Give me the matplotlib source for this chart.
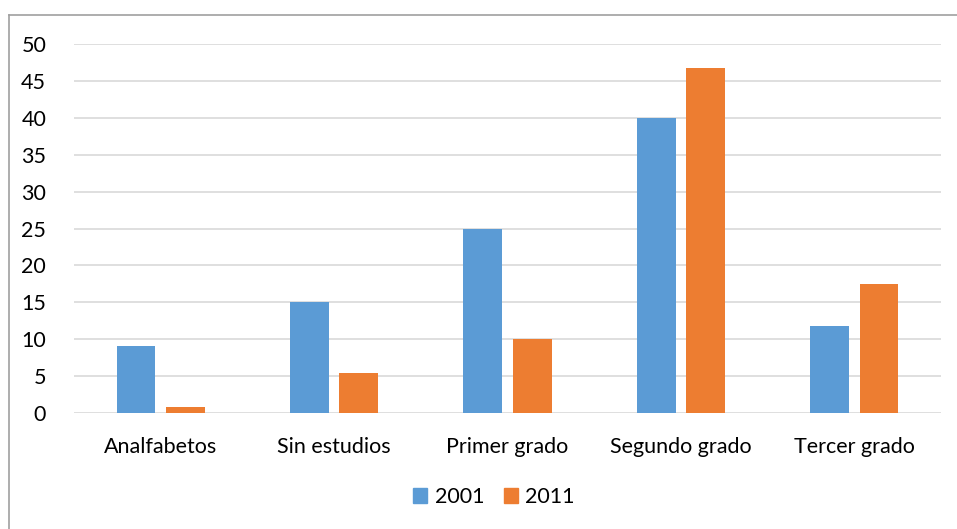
import matplotlib.pyplot as plt
import numpy as np
from matplotlib.patches import Patch

categorias = ['Analfabetos', 'Sin estudios', 'Primer grado', 'Segundo grado', 'Tercer grado']
valores_2001 = [9.1, 15.0, 25.0, 39.9, 11.8]
valores_2011 = [0.8, 5.4, 10.1, 46.7, 17.5]
azul = '#5b9bd5'
naranja = '#ed7d31'

plt.rcParams['font.family'] = ['Lato', 'DejaVu Sans']

fig = plt.figure(figsize=(9.57, 5.29), dpi=100)
ax = fig.add_axes([0.0773, 0.2187, 0.906, 0.6987])

x = np.arange(len(categorias))
ancho = 0.224
desp = 0.1425
ax.bar(x - desp, valores_2001, ancho, color=azul, zorder=3)
ax.bar(x + desp, valores_2011, ancho, color=naranja, zorder=3)

ax.set_xlim(-0.5, len(categorias) - 0.5)
ax.set_ylim(0, 50)
ax.set_yticks(range(0, 51, 5))
ax.set_xticks(x)
ax.set_xticklabels(categorias)
ax.tick_params(axis='both', length=0, labelsize=15.5, colors='#000000')
ax.tick_params(axis='x', pad=17)
ax.tick_params(axis='y', pad=20)
ax.grid(axis='y', color='#d9d9d9', linewidth=1.2, zorder=0)
for s in ax.spines.values():
    s.set_visible(False)

# borde del cuadro (se corta por abajo y a la derecha)
fig.add_artist(plt.Line2D([9 / 957, 1.0], [1 - 15 / 529] * 2, color='#a0a0a0', lw=1.2))
fig.add_artist(plt.Line2D([9 / 957] * 2, [0.0, 1 - 15 / 529], color='#a0a0a0', lw=1.2))

handles = [Patch(color=azul, label='2001'), Patch(color=naranja, label='2011')]
fig.legend(handles=handles, loc='center', bbox_to_anchor=(494 / 957, 1 - 497 / 529), ncol=2,
           frameon=False, fontsize=15.5, handlelength=0.65, handleheight=0.65,
           handletextpad=0.35, columnspacing=0.9)

fig.savefig('out.png', dpi=100)
